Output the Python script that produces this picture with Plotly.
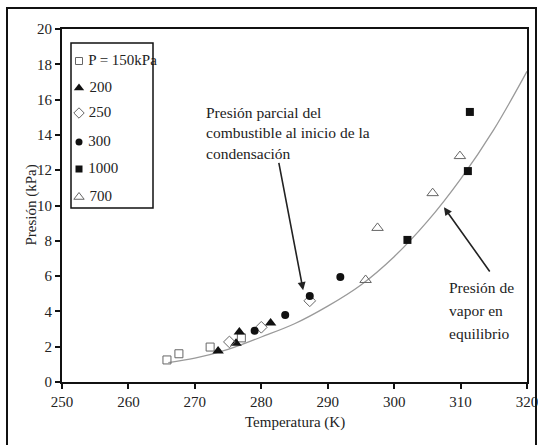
import plotly.graph_objects as go

# ---- data ----
t_150 = [265.8, 267.6, 272.3, 277.0]
p_150 = [1.25, 1.60, 1.98, 2.50]

t_200 = [273.5, 276.2, 276.7, 281.4]
p_200 = [1.76, 2.20, 2.83, 3.34]

t_250 = [275.2, 280.0, 287.3]
p_250 = [2.27, 3.10, 4.60]

t_300 = [279.0, 283.6, 287.3, 291.9]
p_300 = [2.90, 3.80, 4.87, 5.95]

t_1000 = [302.0, 311.1, 311.4]
p_1000 = [8.05, 11.95, 15.30]

t_700 = [295.7, 297.5, 305.8, 309.9]
p_700 = [5.78, 8.73, 10.70, 12.80]

t_curve = [266, 270, 275, 280, 285, 290, 295, 300, 305, 310, 315, 320]
p_curve = [1.10, 1.35, 1.85, 2.55, 3.30, 4.30, 5.50, 7.10, 9.10, 11.50, 14.30, 17.60]

series_labels = ["P = 150kPa", "200", "250", "300", "1000", "700"]
x_ticks = [250, 260, 270, 280, 290, 300, 310, 320]
y_ticks = [0, 2, 4, 6, 8, 10, 12, 14, 16, 18, 20]

note_partial = ["Presión parcial del", "combustible al inicio de la", "condensación"]
note_vapor = ["Presión de", "vapor en", "equilibrio"]

# ---- geometry helpers ----
W, H = 538, 445
L, R, T, B = 62, 11, 29, 63
PW, PH = W - L - R, H - T - B


def px_x(px):
    return (px - L) / PW


def px_y(py):
    return (H - B - py) / PH


FONT = "Liberation Serif, Times New Roman, serif"
TXT = "#222222"
OPEN_LINE = "#666666"
FILL = "#111111"

styles = [
    dict(symbol="square-open", size=8, color=OPEN_LINE, line=dict(width=1, color=OPEN_LINE)),
    dict(symbol="triangle-up", size=10, color=FILL),
    dict(symbol="diamond-open", size=9, color=OPEN_LINE, line=dict(width=1, color=OPEN_LINE)),
    dict(symbol="circle", size=8, color=FILL),
    dict(symbol="square", size=8, color=FILL),
    dict(symbol="triangle-up-open", size=10, color=OPEN_LINE, line=dict(width=1, color=OPEN_LINE)),
]
series = [(t_150, p_150), (t_200, p_200), (t_250, p_250), (t_300, p_300),
          (t_1000, p_1000), (t_700, p_700)]

fig = go.Figure()

fig.add_trace(go.Scatter(x=t_curve, y=p_curve, mode="lines", line=dict(color="#9a9a9a", width=1.3, shape="spline"),
                         showlegend=False, hoverinfo="skip"))

for (tx, py), st, lab in zip(series, styles, series_labels):
    fig.add_trace(go.Scatter(x=tx, y=py, mode="markers", marker=st, name=lab, showlegend=False))

# ---- manual legend on an overlay unit axis ----
leg_rows_px = [61, 88, 113, 142, 169, 197]
for i, (st, lab) in enumerate(zip(styles, series_labels)):
    s = dict(st)
    s["size"] = st["size"] - 1
    fig.add_trace(go.Scatter(x=[px_x(79)], y=[px_y(leg_rows_px[i])], mode="markers+text",
                             marker=s, text=[" " + lab], textposition="middle right",
                             textfont=dict(family=FONT, size=15, color=TXT),
                             xaxis="x2", yaxis="y2", showlegend=False, hoverinfo="skip", cliponaxis=False))

shapes = [
    dict(type="rect", xref="paper", yref="paper", x0=px_x(71), x1=px_x(153), y0=px_y(208), y1=px_y(43),
         line=dict(color="#111111", width=1.5)),
    dict(type="rect", xref="paper", yref="paper", x0=px_x(7), x1=px_x(536), y0=px_y(450), y1=px_y(8),
         line=dict(color="#111111", width=2)),
]

annotations = []
for i, line in enumerate(note_partial):
    annotations.append(dict(xref="paper", yref="paper", x=px_x(204), y=px_y(112 + 20.5 * i), text=line,
                            showarrow=False, xanchor="left", yanchor="middle",
                            font=dict(family=FONT, size=15.5, color=TXT)))
for i, line in enumerate(note_vapor):
    annotations.append(dict(xref="paper", yref="paper", x=px_x(447), y=px_y(287 + 23 * i), text=line,
                            showarrow=False, xanchor="left", yanchor="middle",
                            font=dict(family=FONT, size=15.5, color=TXT)))
# arrows
annotations.append(dict(x=286.3, y=5.2, ax=282.6, ay=12.5, xref="x", yref="y", axref="x", ayref="y",
                        text="", showarrow=True, arrowhead=2, arrowsize=1, arrowwidth=1.6, arrowcolor=TXT))
annotations.append(dict(x=307.5, y=9.9, ax=314.55, ay=6.18, xref="x", yref="y", axref="x", ayref="y",
                        text="", showarrow=True, arrowhead=2, arrowsize=1, arrowwidth=1.6, arrowcolor=TXT))
# axis titles
annotations.append(dict(xref="paper", yref="paper", x=px_x(20), y=px_y(205), text="Presión (kPa)",
                        textangle=-90, showarrow=False, font=dict(family=FONT, size=15, color=TXT)))
annotations.append(dict(xref="paper", yref="paper", x=px_x(295), y=px_y(433), text="Temperatura (K)",
                        showarrow=False, font=dict(family=FONT, size=15, color=TXT)))

fig.update_layout(
    width=W, height=H,
    margin=dict(l=L, r=R, t=T, b=B, autoexpand=False),
    paper_bgcolor="white", plot_bgcolor="white",
    font=dict(family=FONT, size=14, color=TXT),
    xaxis=dict(range=[250, 320], tickvals=x_ticks, ticks="outside", ticklen=5, tickwidth=1.5, tickcolor="#111",
               showline=True, linecolor="#111", linewidth=2, mirror=True, showgrid=False, zeroline=False,
               automargin=False, ticklabeloverflow="allow",
               tickfont=dict(family=FONT, size=15, color=TXT)),
    yaxis=dict(range=[0, 20], tickvals=y_ticks, ticks="outside", ticklen=5, tickwidth=1.5, tickcolor="#111",
               showline=True, linecolor="#111", linewidth=2, mirror=True, showgrid=False, zeroline=False,
               automargin=False, ticklabeloverflow="allow",
               tickfont=dict(family=FONT, size=15, color=TXT)),
    xaxis2=dict(range=[0, 1], overlaying="x", visible=False, domain=[0, 1]),
    yaxis2=dict(range=[0, 1], overlaying="y", visible=False, domain=[0, 1]),
    shapes=shapes,
    annotations=annotations,
    showlegend=False,
)

fig.write_html("out.html")
